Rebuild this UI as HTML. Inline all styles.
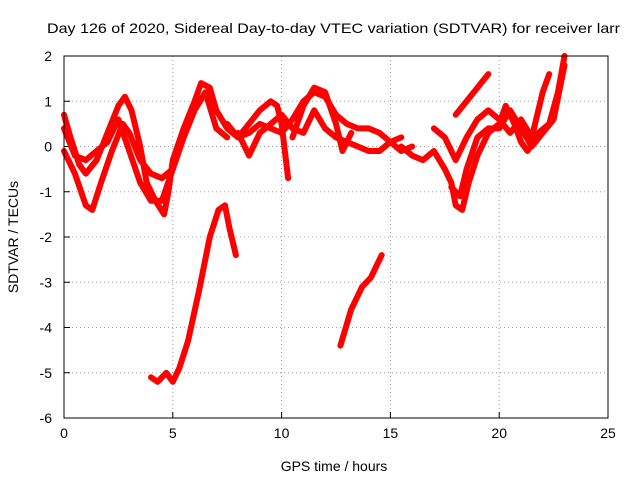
<!DOCTYPE html>
<html><head><meta charset="utf-8"><style>
body{margin:0;background:#fff;}
svg{display:block;font-family:"Liberation Sans",sans-serif;}
</style></head><body>
<svg id="chart" width="640" height="480" viewBox="0 0 640 480">
<rect width="640" height="480" fill="#fff"/>
<text x="47" y="33" font-size="14" textLength="573" lengthAdjust="spacingAndGlyphs">Day 126 of 2020, Sidereal Day-to-day VTEC variation (SDTVAR) for receiver larr</text>
<text x="334" y="471" font-size="14" text-anchor="middle">GPS time / hours</text>
<text transform="translate(18,237) rotate(-90)" font-size="14" text-anchor="middle">SDTVAR / TECUs</text>
<g id="grid"></g>
<g id="series"></g>
<rect x="64" y="56" width="544" height="362" fill="none" stroke="#000" stroke-width="1"/>
</svg>
<script>
const xTicks=[0,5,10,15,20,25];
const yTicks=[2,1,0,-1,-2,-3,-4,-5,-6];
const s1t=[0,0.3,0.7,1,1.5,2,2.5,2.8,3.1,3.5,3.8,4.2,4.6,4.8,5,5.5,6,6.3,6.7,7,7.5,8,8.5,9,9.5,9.8,10,10.3];
const s1v=[0.7,0.2,-0.4,-0.6,-0.3,0.3,0.9,1.1,0.8,0,-0.8,-1.2,-1.5,-1,-0.3,0.4,1,1.4,1.3,0.8,0.4,0.2,0.5,0.8,1.0,0.9,0.5,-0.7];
const s2t=[0,0.5,1,1.3,1.7,2.2,2.7,3,3.5,4,4.5,5];
const s2v=[-0.1,-0.6,-1.3,-1.4,-0.8,-0.1,0.5,0.3,-0.3,-0.6,-0.7,-0.5];
const s3t=[0,0.5,1,1.5,2,2.5,3,3.5,4,4.5,5,5.5,6,6.5,7,7.5];
const s3v=[0.4,-0.2,-0.3,-0.1,0.1,0.6,-0.1,-0.8,-1.2,-1.2,-0.5,0.2,0.8,1.2,0.4,0.2];
const s4t=[4,4.3,4.7,5,5.3,5.7,6.2,6.7,7.1,7.4,7.6,7.9];
const s4v=[-5.1,-5.2,-5.0,-5.2,-4.9,-4.3,-3.2,-2.0,-1.4,-1.3,-1.8,-2.4];
const s5t=[12.7,13.2,13.7,14.1,14.6];
const s5v=[-4.4,-3.6,-3.1,-2.9,-2.4];
const s6t=[7.5,8,8.5,9,9.5,10,10.5,11,11.5,12,12.5,13,13.5,14,14.5,15,15.5,16];
const s6v=[0.5,0.2,0.3,0.5,0.4,0.3,0.6,1.0,1.2,1.1,0.7,0.5,0.4,0.4,0.3,0.1,-0.1,0];
const s7t=[8,8.5,9,9.5,10,10.5,11,11.5,12,12.5,13,13.5,14,14.5,15,15.5];
const s7v=[0.3,-0.2,0.3,0.5,0.7,0.4,0.3,0.8,0.4,0.2,0.1,0,-0.1,-0.1,0.1,0.2];
const s8t=[10.5,11,11.5,12,12.5,12.8,13.2];
const s8v=[0.2,0.9,1.3,1.2,0.5,-0.1,0.3];
const s9t=[15.5,16,16.5,17,17.5,17.8,18,18.3,18.6,19,19.5,20,20.3,20.7,21,21.3,21.8,22.3,22.7,23];
const s9v=[0,-0.2,-0.3,-0.1,-0.5,-0.8,-1.3,-1.4,-0.8,-0.2,0.3,0.5,0.9,0.5,0.1,-0.1,0.3,0.5,1.2,2.0];
const s10t=[18,18.5,19,19.5];
const s10v=[0.7,1.0,1.3,1.6];
const s11t=[17,17.5,18,18.5,19,19.5,20,20.5,21,21.5,22,22.3];
const s11v=[0.4,0.2,-0.3,0.2,0.6,0.8,0.6,0.3,0.6,0.2,1.2,1.6];
const s12t=[17.8,18.2,18.5,19,19.5,20,20.5,21,21.5,22,22.5,23];
const s12v=[-0.9,-1.1,-0.5,0.2,0.4,0.4,0.8,0.4,0.0,0.3,0.6,1.8];
const seriesT=[s1t,s2t,s3t,s4t,s5t,s6t,s7t,s8t,s9t,s10t,s11t,s12t];
const seriesV=[s1v,s2v,s3v,s4v,s5v,s6v,s7v,s8v,s9v,s10v,s11v,s12v];

const X0=64,X1=608,Y0=418,Y1=56;
const xs=t=>X0+(t-0)/(25-0)*(X1-X0);
const ys=v=>Y0-(v-(-6))/(2-(-6))*(Y0-Y1);
const NS="http://www.w3.org/2000/svg";
const grid=document.getElementById('grid');
function mk(tag,attrs,parent){const e=document.createElementNS(NS,tag);for(const k in attrs)e.setAttribute(k,attrs[k]);parent.appendChild(e);return e;}
xTicks.forEach(t=>{
  const x=xs(t);
  if(t>0&&t<25){const g=mk('line',{x1:x,x2:x,y1:Y1,y2:Y0,stroke:'#a0a0a0','stroke-dasharray':'1,3'},grid);
  
  }
  const tk=mk('line',{x1:x,x2:x,y1:Y0,y2:Y0-6,stroke:'#000'},grid);
  
  
  const lb=mk('text',{x:x,y:Y0+20,'font-size':14,'text-anchor':'middle'},grid);
  lb.textContent=t;
  
  
});
yTicks.forEach(v=>{
  const y=ys(v);
  if(v<2&&v>-6){const g=mk('line',{x1:X0,x2:X1,y1:y,y2:y,stroke:'#a0a0a0','stroke-dasharray':'1,3'},grid);
  
  }
  const tk=mk('line',{x1:X0,x2:X0+6,y1:y,y2:y,stroke:'#000'},grid);
  
  
  const lb=mk('text',{x:X0-12,y:y+5,'font-size':14,'text-anchor':'end'},grid);
  lb.textContent=v;
  
  
});
const sg=document.getElementById('series');
seriesT.forEach((ts,i)=>{
  const vs=seriesV[i];
  const pts=ts.map((t,j)=>xs(t).toFixed(1)+','+ys(vs[j]).toFixed(1)).join(' ');
  const p=mk('polyline',{points:pts,fill:'none',stroke:'#ff0000','stroke-width':6,'stroke-linejoin':'round','stroke-linecap':'round'},sg);
  
  
});
</script>
</body></html>
